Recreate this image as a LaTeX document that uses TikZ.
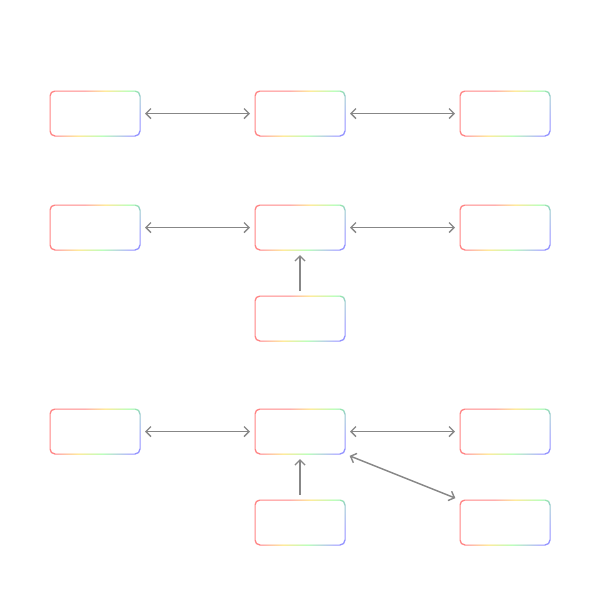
\documentclass[tikz,border=0pt]{standalone}
\usepackage{tikz}
\usetikzlibrary{arrows.meta,calc}

% pale rainbow for the frames
\pgfdeclarehorizontalshading{rainbow}{100bp}{color(0bp)=(red!48); color(36bp)=(red!48); color(48bp)=(yellow!60!orange!60); color(62bp)=(green!40); color(78bp)=(blue!42); color(100bp)=(blue!42)}

\tikzset{
  cell/.style={minimum width=90*0.025cm, minimum height=45*0.025cm, inner sep=0pt, outer sep=0pt},
  link/.style={draw=black!47, line width=1pt, {Straight Barb[length=1.25mm, width=2.5mm]}-{Straight Barb[length=1.25mm, width=2.5mm]}, shorten <=5*0.025cm, shorten >=5*0.025cm},
  feed/.style={link, -{Straight Barb[length=1.25mm, width=2.5mm]}}
}

\newcommand{\rainbowframe}[1]{%
  \shade[shading=rainbow, shading angle=-31, even odd rule, rounded corners=5*0.025cm]
    ($(#1.south west)+(-0.5,0.5)$) rectangle ($(#1.north east)+(0.5,-0.5)$)
    ($(#1.south west)+(0.5,-0.5)$) rectangle ($(#1.north east)+(-0.5,0.5)$);}

\begin{document}
\begin{tikzpicture}[x=0.025cm, y=-0.025cm]
            \fill[white] (0,0) rectangle (600,600);
            \useasboundingbox (0,0) rectangle (600,600);
            % first row
            \node[cell] (a1) at (95,113.5) {};
            \node[cell] (b1) at (300,113.5) {};
            \node[cell] (c1) at (505,113.5) {};
            % second row
            \node[cell] (a2) at (95,227.5) {};
            \node[cell] (b2) at (300,227.5) {};
            \node[cell] (c2) at (505,227.5) {};
            \node[cell] (d2) at (300,318.5) {};
            % third row
            \node[cell] (a3) at (95,431.5) {};
            \node[cell] (b3) at (300,431.5) {};
            \node[cell] (c3) at (505,431.5) {};
            \node[cell] (d3) at (300,522.5) {};
            \node[cell] (e3) at (505,522.5) {};
            \foreach \n in {a1,b1,c1,a2,b2,c2,d2,a3,b3,c3,d3,e3}
              {\rainbowframe{\n}}
            \draw[link] (a1) -- (b1);
            \draw[link] (b1) -- (c1);
            \draw[link] (a2) -- (b2);
            \draw[link] (b2) -- (c2);
            \draw[feed] (d2) -- (b2);
            \draw[link] (a3) -- (b3);
            \draw[link] (b3) -- (c3);
            \draw[feed] (d3) -- (b3);
            \draw[link] (b3.south east) -- (e3.north west);
        \end{tikzpicture}
\end{document}
